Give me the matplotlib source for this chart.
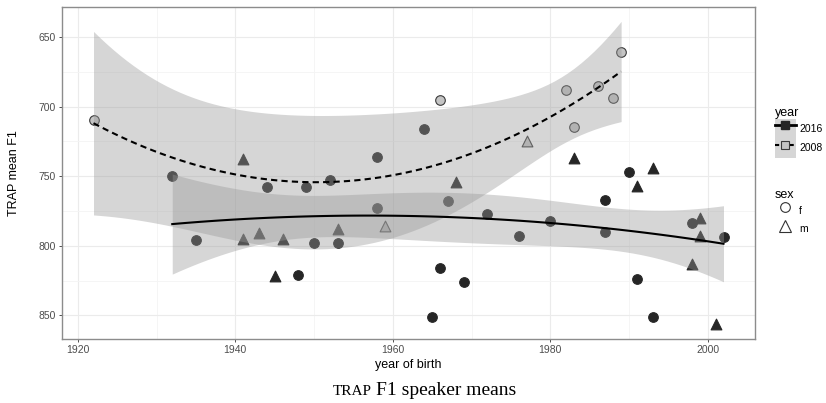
import numpy as np
import matplotlib
matplotlib.use("Agg")
import matplotlib.pyplot as plt
from matplotlib.lines import Line2D
from matplotlib.patches import Patch
from matplotlib.legend_handler import HandlerTuple
from matplotlib.ticker import MultipleLocator

plt.rcParams['font.family'] = ['Liberation Sans', 'DejaVu Sans']

# speaker means: year of birth, mean TRAP F1, sex
birth_2016 = [1932, 1935, 1944, 1948, 1949, 1950, 1952, 1953, 1958, 1958, 1964, 1965, 1966,
              1967, 1969, 1972, 1976, 1980, 1987, 1987, 1990, 1991, 1993, 1998, 2002,
              1941, 1941, 1943, 1945, 1946, 1953, 1968, 1983, 1991, 1993, 1998, 1999, 1999, 2001]
f1_2016 = [750, 796, 758, 821, 758, 798, 753, 798, 736, 773, 716, 851, 816,
           768, 826, 777, 793, 782, 767, 790, 747, 824, 851, 784, 794,
           738, 795, 791, 822, 795, 788, 754, 737, 757, 744, 813, 780, 793, 856]
sex_2016 = ['f'] * 25 + ['m'] * 14

birth_2008 = [1922, 1966, 1982, 1983, 1986, 1988, 1989, 1959, 1977]
f1_2008 = [710, 695, 688, 715, 685, 694, 661, 786, 725]
sex_2008 = ['f'] * 7 + ['m'] * 2

# 97.5% t quantiles for n - 3 residual df (quadratic fit)
t_crit = {36: 2.028, 6: 2.447}


def quad_smooth(x, y, n_grid=80):
    """quadratic lm fit with 95% confidence band, like geom_smooth(method='lm', y ~ poly(x, 2))"""
    x = np.asarray(x, float)
    y = np.asarray(y, float)
    xc = x.mean()
    X = np.column_stack([np.ones_like(x), x - xc, (x - xc) ** 2])
    beta, *_ = np.linalg.lstsq(X, y, rcond=None)
    resid = y - X @ beta
    df = len(x) - 3
    cov = (resid @ resid / df) * np.linalg.inv(X.T @ X)
    grid = np.linspace(x.min(), x.max(), n_grid)
    G = np.column_stack([np.ones_like(grid), grid - xc, (grid - xc) ** 2])
    fit = G @ beta
    se = np.sqrt(np.einsum('ij,jk,ik->i', G, cov, G))
    return grid, fit, fit - t_crit[df] * se, fit + t_crit[df] * se


fig = plt.figure(figsize=(8.26, 4.03), dpi=100)
ax = fig.add_axes([62 / 826, 1 - 339 / 403, (755 - 62) / 826, (339 - 7) / 403])

groups = [
    (birth_2016, f1_2016, sex_2016, '#262626', '#262626', '-'),
    (birth_2008, f1_2008, sex_2008, '#c4c4c4', '#3a3a3a', (0, (3, 2))),
]
for bx, fy, sx, fill, edge, ls in groups:
    bx = np.array(bx)
    fy = np.array(fy)
    sx = np.array(sx)
    for s, mk, size in [('f', 'o', 48), ('m', '^', 60)]:
        sel = sx == s
        ax.scatter(bx[sel], fy[sel], marker=mk, s=size, c=fill, edgecolors=edge,
                   linewidths=0.8, zorder=2)

for bx, fy, sx, fill, edge, ls in groups:
    grid, fit, lo, hi = quad_smooth(bx, fy)
    ax.fill_between(grid, lo, hi, color='#999999', alpha=0.4, lw=0, zorder=3)
    ax.plot(grid, fit, color='black', lw=1.5, ls=ls, zorder=4)

ax.set_xlim(1918, 2006)
ax.set_ylim(867, 628.5)
ax.xaxis.set_major_locator(MultipleLocator(20))
ax.xaxis.set_minor_locator(MultipleLocator(10))
ax.yaxis.set_major_locator(MultipleLocator(50))
ax.yaxis.set_minor_locator(MultipleLocator(25))
ax.grid(which='major', color='#ebebeb', lw=0.8)
ax.grid(which='minor', color='#f4f4f4', lw=0.6)
ax.set_axisbelow(True)
ax.tick_params(which='major', length=2.5, width=0.6, color='#333333',
               labelsize=7.5, labelcolor='#4d4d4d', pad=2)
ax.tick_params(which='minor', length=0)
for sp in ax.spines.values():
    sp.set_color('#8c8c8c')
    sp.set_linewidth(1.0)

ax.set_xlabel('year of birth', fontsize=9, labelpad=3)
ax.set_ylabel('TRAP mean F1', fontsize=9, labelpad=13)

# legends
band = '#d6d6d6'
year_handles = [
    (Patch(facecolor=band, edgecolor='none'),
     Line2D([], [], color='black', lw=2, marker='s', ms=5.5, mfc='#262626', mec='#262626')),
    (Patch(facecolor=band, edgecolor='none'),
     Line2D([], [], color='black', lw=1.5, ls=(0, (2, 1.5)), marker='s', ms=5.5,
            mfc='#c4c4c4', mec='#3a3a3a', mew=0.8)),
]
fig.legend(year_handles, ['2016', '2008'], title='year', loc='upper left',
           bbox_to_anchor=(775 / 826, 1 - 107 / 403), frameon=False,
           fontsize=7.5, title_fontsize=9, alignment='left',
           handlelength=2.0, handleheight=2.5, labelspacing=0, borderpad=0,
           handletextpad=0.3, borderaxespad=0,
           handler_map={tuple: HandlerTuple(ndivide=1)})

sex_handles = [
    Line2D([], [], ls='none', marker='o', ms=7, mfc='none', mec='#333333', mew=0.8),
    Line2D([], [], ls='none', marker='^', ms=8, mfc='none', mec='#333333', mew=0.8),
]
fig.legend(sex_handles, ['f', 'm'], title='sex', loc='upper left',
           bbox_to_anchor=(775 / 826, 1 - 189 / 403), frameon=False,
           fontsize=7.5, title_fontsize=9, alignment='left',
           handlelength=2.0, handleheight=2.4, labelspacing=0, borderpad=0,
           handletextpad=0.3, borderaxespad=0)

# caption, TRAP in small caps
fig.text(372 / 826, 0.02, 'TRAP', family='Liberation Serif', fontsize=11,
         ha='right', va='baseline')
fig.text(376 / 826, 0.02, 'F1 speaker means', family='Liberation Serif', fontsize=14,
         ha='left', va='baseline')

fig.savefig('out.png', dpi=100)
